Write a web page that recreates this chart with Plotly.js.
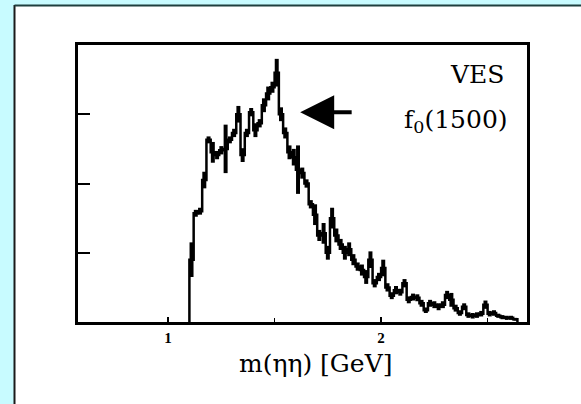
<!DOCTYPE html>
<html>
<head>
<meta charset="utf-8">
<script src="https://cdn.plot.ly/plotly-3.0.1.min.js"></script>
<style>
  html, body { margin: 0; padding: 0; background: #c8fbff; }
  #chart { width: 581px; height: 404px; }
</style>
</head>
<body>
<div id="chart"></div>
<script>
// m(eta eta) spectrum, VES: events per 20 MeV bin (arbitrary units)
const binStart = 1.10;   // GeV, lower edge of first bin
const binWidth = 0.02;   // GeV

const counts = [
  0.90, 1.57, 1.60, 2.05, 2.63, 2.45, 2.41, 2.48, 2.50, 2.63,
  2.73, 3.00, 2.41, 2.73, 3.03, 2.77, 2.87, 3.13, 3.30, 3.39,
  3.60, 3.00, 2.73, 2.45, 2.38, 2.20, 2.15, 2.00, 1.70, 1.55,
  1.25, 1.28, 1.00, 1.50, 1.25, 1.12, 1.00, 1.05, 0.90, 0.80,
  0.75, 0.65, 0.90, 0.56, 0.65, 0.78, 0.50, 0.38, 0.46, 0.43,
  0.56, 0.32, 0.36, 0.35, 0.27, 0.17, 0.27, 0.25, 0.22, 0.25,
  0.39, 0.32, 0.20, 0.13, 0.22, 0.10, 0.09, 0.10, 0.12, 0.25,
  0.12, 0.13, 0.09, 0.07, 0.06, 0.06, 0.04
];

const errors = [
  0.25, 0.05, 0.05, 0.12, 0.05, 0.15, 0.06, 0.06, 0.35, 0.05,
  0.06, 0.12, 0.10, 0.06, 0.06, 0.10, 0.06, 0.10, 0.10, 0.08,
  0.20, 0.10, 0.08, 0.10, 0.12, 0.35, 0.08, 0.06, 0.06, 0.15,
  0.08, 0.15, 0.10, 0.15, 0.10, 0.08, 0.10, 0.10, 0.08, 0.06,
  0.08, 0.10, 0.12, 0.06, 0.06, 0.12, 0.06, 0.05, 0.06, 0.05,
  0.06, 0.05, 0.05, 0.05, 0.05, 0.04, 0.05, 0.05, 0.05, 0.05,
  0.06, 0.10, 0.05, 0.04, 0.05, 0.04, 0.04, 0.04, 0.04, 0.06,
  0.04, 0.04, 0.03, 0.03, 0.03, 0.03, 0.02
];

const xTickVals = [1, 2];
const xTickText = ['1', '2'];
const xMinorStep = 0.5;
const yTickVals = [1, 2, 3];

// histogram outline: rises from zero at the first edge, 'hv' steps, closed back to zero
const edges = counts.map((_, i) => binStart + i * binWidth);
const stepX = [binStart].concat(edges, [binStart + counts.length * binWidth]);
const stepY = [0].concat(counts, [0]);
const centers = edges.map(e => e + binWidth / 2);

const outline = {
  x: stepX, y: stepY,
  type: 'scatter', mode: 'lines',
  line: { shape: 'hv', color: '#000', width: 2.5 },
  hoverinfo: 'skip'
};

const bars = {
  x: centers, y: counts,
  type: 'scatter', mode: 'markers',
  marker: { size: 1, color: '#000' },
  error_y: { type: 'data', array: errors, visible: true, color: '#000', thickness: 4, width: 0 },
  hoverinfo: 'skip'
};

const serif = 'DejaVu Serif, Liberation Serif, serif';

const layout = {
  width: 581, height: 404,
  paper_bgcolor: '#c8fbff',
  plot_bgcolor: '#ffffff',
  margin: { l: 78, r: 54, t: 45, b: 82 },
  showlegend: false,
  hovermode: false,
  xaxis: {
    range: [0.577, 2.685],
    tickvals: xTickVals, ticktext: xTickText,
    ticks: 'inside', ticklen: 5, tickwidth: 1.5, tickcolor: '#000',
    tickfont: { family: 'Liberation Serif, serif', size: 15, color: '#000', weight: 'bold' },
    minor: { dtick: xMinorStep, tick0: 1, ticks: 'inside', ticklen: 4, tickwidth: 1.5, tickcolor: '#000', showgrid: false },
    showgrid: false, zeroline: false,
    showline: true, mirror: true, linecolor: '#000', linewidth: 3
  },
  yaxis: {
    range: [0, 4],
    tickvals: yTickVals, showticklabels: false,
    ticks: 'inside', ticklen: 12, tickwidth: 2, tickcolor: '#000',
    showgrid: false, zeroline: false,
    showline: true, mirror: true, linecolor: '#000', linewidth: 3
  },
  shapes: [
    // white card on the cyan page
    { type: 'rect', xref: 'paper', yref: 'paper', layer: 'below',
      x0: -63 / 449, x1: 503 / 449, y0: -82 / 277, y1: 317 / 277,
      fillcolor: '#ffffff', line: { width: 0 } },
    { type: 'line', xref: 'paper', yref: 'paper', layer: 'below',
      x0: -63.5 / 449, x1: -63.5 / 449, y0: -82 / 277, y1: 317 / 277,
      line: { color: '#1a1a1a', width: 2 } },
    { type: 'line', xref: 'paper', yref: 'paper', layer: 'below',
      x0: -63.5 / 449, x1: 503 / 449, y0: 316.5 / 277, y1: 316.5 / 277,
      line: { color: '#1f3f3f', width: 2 } }
  ],
  annotations: [
    { text: 'VES', xref: 'paper', yref: 'paper', x: 0.953, y: 0.895,
      xanchor: 'right', yanchor: 'middle', showarrow: false,
      font: { family: serif, size: 25, color: '#000' } },
    { text: 'f<sub>0</sub>(1500)', xref: 'paper', yref: 'paper', x: 0.963, y: 0.725,
      xanchor: 'right', yanchor: 'middle', showarrow: false,
      font: { family: serif, size: 25, color: '#000' } },
    { text: 'm(ηη) [GeV]', xref: 'paper', yref: 'paper', x: 0.528, y: -0.151,
      xanchor: 'center', yanchor: 'middle', showarrow: false,
      font: { family: serif, size: 25, color: '#000' } },
    // arrow marking the f0(1500) peak
    { text: '', x: 1.62, y: 3.03, xref: 'x', yref: 'y',
      ax: 53, ay: 0, showarrow: true,
      arrowhead: 2, arrowsize: 1.7, arrowwidth: 4, arrowcolor: '#000' }
  ]
};

Plotly.newPlot('chart', [outline, bars], layout, { staticPlot: true, displayModeBar: false });
</script>
</body>
</html>
